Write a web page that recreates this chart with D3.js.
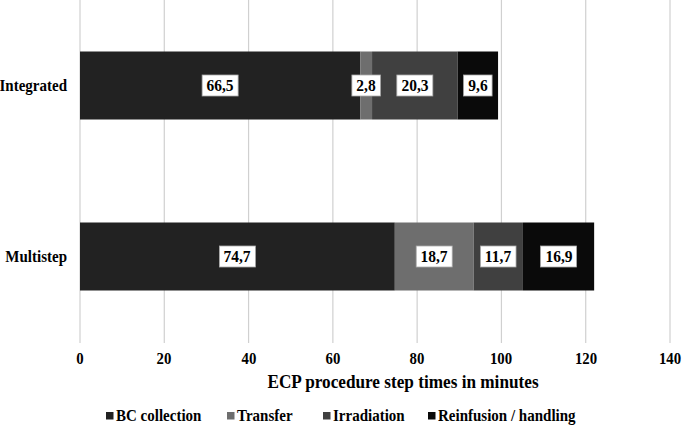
<!DOCTYPE html>
<html><head><meta charset="utf-8">
<script src="https://cdn.jsdelivr.net/npm/d3@7"></script>
<style>
body{margin:0;background:#fff}
#chart{position:relative;width:682px;height:425px;overflow:hidden}
#chart svg{position:absolute;left:0;top:0;display:block}
.lbl{position:absolute;white-space:nowrap;line-height:1;transform-origin:0 0;color:#000;
  font-family:"Liberation Serif","Times New Roman",serif;font-weight:bold;}
</style>
</head><body>
<div id="chart"></div>
<script>
const categories = ["Integrated", "Multistep"];
const seriesNames = ["BC collection", "Transfer", "Irradiation", "Reinfusion / handling"];
const bcCollection = [66.5, 74.7];
const transfer = [2.8, 18.7];
const irradiation = [20.3, 11.7];
const reinfusion = [9.6, 16.9];
const xTicks = [0, 20, 40, 60, 80, 100, 120, 140];
const colors = ["#222222", "#6e6e6e", "#404040", "#0a0a0a"];

const W = 682, H = 425;
const SY = 1.1;   // slight vertical stretch of the reference text
const K = 2;      // text laid out at K× size, then scaled down
const root = d3.select("#chart");
const svg = root.append("svg").attr("width", W).attr("height", H);

function label(x, y, txt, size, anchor) {
  const tx = anchor === "end" ? -100 : anchor === "start" ? 0 : -50;
  return root.append("div").attr("class", "lbl")
    .style("left", x + "px").style("top", y + "px")
    .style("font-size", (size * K) + "px")
    .style("transform", `scale(${1 / K},${SY / K}) translate(${tx}%,-83.75%)`)
    .text(txt);
}

const x = d3.scaleLinear().domain([0, 140]).range([80, 670]);
const y = d3.scaleBand().domain(categories).range([0, 342]).paddingInner(0.6).paddingOuter(0.3);

// gridlines
svg.append("g").selectAll("line").data(xTicks).join("line")
  .attr("x1", d => x(d)).attr("x2", d => x(d))
  .attr("y1", 0).attr("y2", 343)
  .attr("stroke", "#d0d0d0").attr("stroke-width", 1.2);

const rows = categories.map((c, i) => ({cat: c, BC: bcCollection[i], T: transfer[i], I: irradiation[i], R: reinfusion[i]}));
const keys = ["BC", "T", "I", "R"];
const stack = d3.stack().keys(keys)(rows);

const bw = 68;
stack.forEach((layer, k) => {
  svg.append("g").selectAll("rect").data(layer).join("rect")
    .attr("x", d => x(d[0]))
    .attr("width", d => x(d[1]) - x(d[0]))
    .attr("y", d => y(d.data.cat) + y.bandwidth() / 2 - bw / 2)
    .attr("height", bw)
    .attr("fill", colors[k]);
});

// data labels
const fmt = v => String(v).replace(".", ",");
stack.forEach((layer, k) => {
  layer.forEach(d => {
    const cx = (x(d[0]) + x(d[1])) / 2;
    const cy = y(d.data.cat) + y.bandwidth() / 2;
    const t = label(cx, cy + 5.5, fmt(d.data[keys[k]]), 15.5);
    const w = t.node().offsetWidth / K;
    svg.append("rect").attr("x", cx - w / 2 - 4.5).attr("y", cy - 10.5)
      .attr("width", w + 9).attr("height", 21)
      .attr("fill", "#fff").attr("stroke", "#aaa").attr("stroke-width", 0.8);
  });
});

// category labels
categories.forEach(c => label(67, y(c) + y.bandwidth() / 2 + 5, c, 15, "end"));

// x tick labels
xTicks.forEach(v => label(x(v), 364, v, 14.8));

// axis title
label(403, 388, "ECP procedure step times in minutes", 17.2);

// legend
const legX = [106, 227, 323, 428];
seriesNames.forEach((s, i) => {
  svg.append("rect").attr("x", legX[i]).attr("y", 412).attr("width", 7.5).attr("height", 7.5)
    .attr("fill", colors[i]);
  label(legX[i] + 10, 420.5, s, 15, "start");
});
</script>
</body></html>
